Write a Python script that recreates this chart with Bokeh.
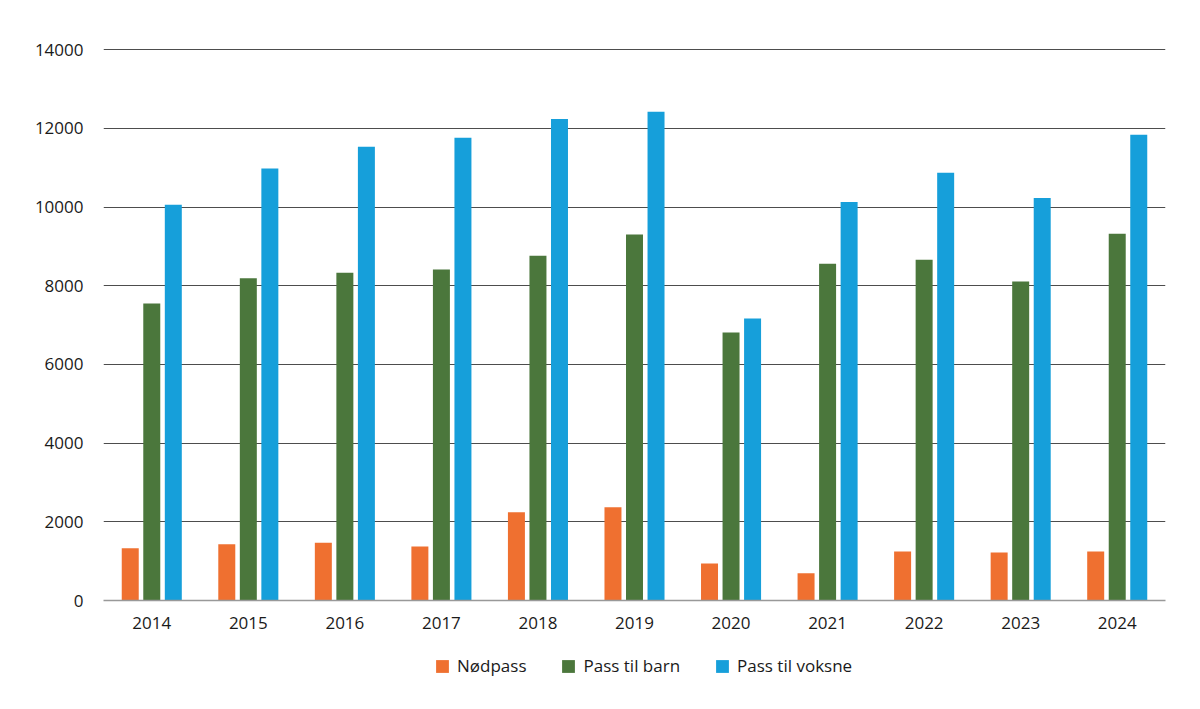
from bokeh.plotting import figure
from bokeh.layouts import column
from bokeh.models import FactorRange, Range1d, Legend, LegendItem, FixedTicker, ColumnDataSource
from bokeh.transform import dodge
from bokeh.embed import file_html
from bokeh.resources import INLINE

years = ["2014", "2015", "2016", "2017", "2018", "2019", "2020", "2021", "2022", "2023", "2024"]
nodpass = [1330, 1430, 1470, 1370, 2240, 2370, 940, 690, 1245, 1220, 1245]
pass_barn = [7550, 8190, 8330, 8410, 8760, 9300, 6810, 8560, 8660, 8110, 9320]
pass_voksne = [10060, 10980, 11530, 11760, 12240, 12420, 7170, 10130, 10870, 10230, 11840]
y_ticks = [0, 2000, 4000, 6000, 8000, 10000, 12000, 14000]

series_names = ["Nødpass", "Pass til barn", "Pass til voksne"]
colors = ["#EF7030", "#4B773C", "#169FDA"]

src = ColumnDataSource(dict(year=years, n=nodpass, b=pass_barn, v=pass_voksne))

FONT = "Open Sans"

p = figure(x_range=FactorRange(*years, range_padding=0), y_range=Range1d(0, 14030),
           frame_width=1062, frame_height=552,
           min_border_left=103, min_border_top=48, min_border_right=27, min_border_bottom=40,
           output_backend="svg", toolbar_location=None, background_fill_color="white",
           border_fill_color="white", outline_line_color=None)

offsets = [-0.223, 0.0, 0.223]
cols = ["n", "b", "v"]
for off, c, col in zip(offsets, cols, colors):
    p.vbar(x=dodge("year", off, range=p.x_range), top=c, width=0.176, source=src,
           fill_color=col, line_color=None)

p.xgrid.grid_line_color = None
p.ygrid.grid_line_color = "#4d4d4d"
p.ygrid.grid_line_width = 1
p.yaxis.ticker = FixedTicker(ticks=y_ticks)

p.yaxis.axis_line_color = None
p.yaxis.major_tick_line_color = None
p.yaxis.minor_tick_line_color = None
p.yaxis.major_label_standoff = 14
p.yaxis.major_label_text_font = FONT
p.yaxis.major_label_text_font_size = "17px"
p.yaxis.major_label_text_color = "#1a1a1a"

p.xaxis.axis_line_color = "#999999"
p.xaxis.axis_line_width = 1.5
p.xaxis.major_tick_line_color = None
p.xaxis.minor_tick_line_color = None
p.xaxis.major_label_standoff = 10
p.xaxis.major_label_text_font = FONT
p.xaxis.major_label_text_font_size = "17px"
p.xaxis.major_label_text_color = "#1a1a1a"

# legend figure (its frame is aligned with the main figure's frame by the column)
lf = figure(width=1192, height=60, x_range=Range1d(0, 1), y_range=Range1d(0, 1),
            min_border=0, output_backend="svg", toolbar_location=None,
            outline_line_color=None, background_fill_color="white", border_fill_color="white")
lf.axis.visible = False
lf.grid.visible = False
hidden = ColumnDataSource(dict(x=[-10.0], top=[-10.0]))
leg_renderers = [lf.vbar(x="x", top="top", width=0.1, source=hidden,
                         fill_color=c, line_color=None) for c in colors]
legend = Legend(items=[LegendItem(label=n, renderers=[r]) for n, r in zip(series_names, leg_renderers)],
                orientation="horizontal", location=(331, 23),
                glyph_width=16, glyph_height=16, label_standoff=7, spacing=34,
                label_text_font=FONT, label_text_font_size="17px", label_text_color="#1a1a1a",
                border_line_color=None, background_fill_alpha=0, margin=0, padding=0)
lf.add_layout(legend, "center")

layout = column(p, lf, spacing=0)
open("out.html", "w").write(file_html(layout, INLINE))
